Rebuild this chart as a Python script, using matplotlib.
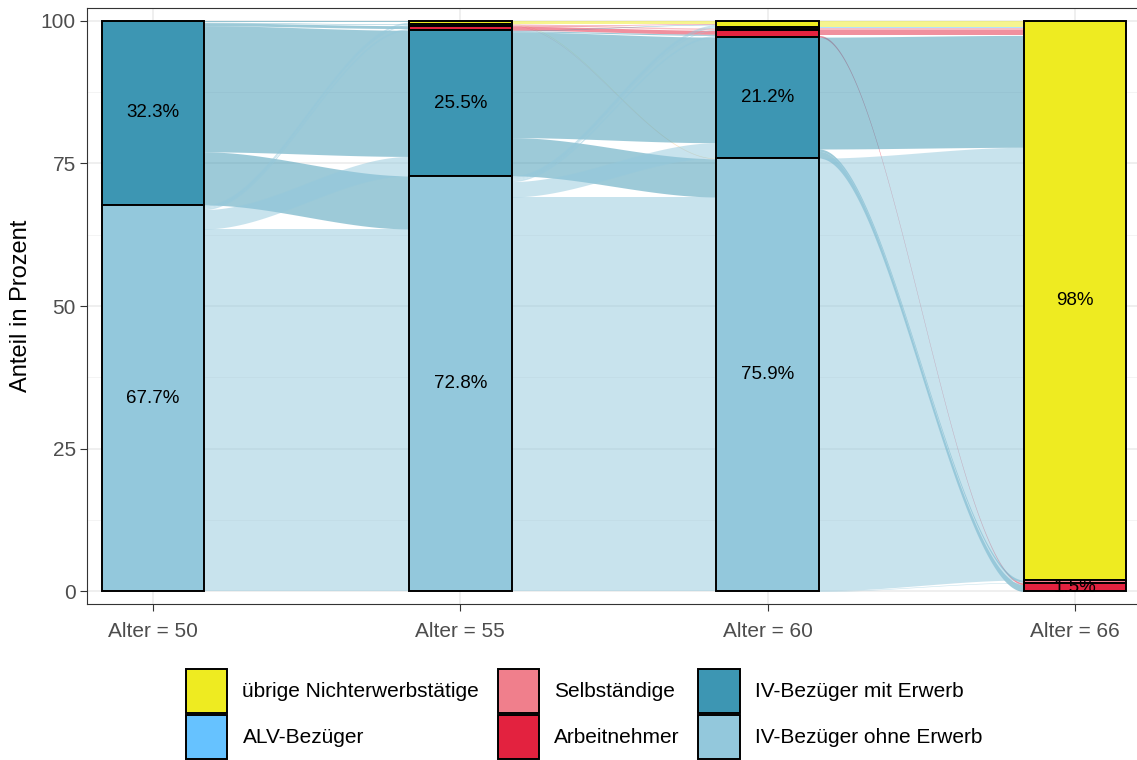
import numpy as np
import matplotlib.pyplot as plt
from matplotlib.patches import Patch

plt.rcParams['font.family'] = ['Liberation Sans', 'DejaVu Sans']

# Achsen und Kategorien (Reihenfolge von oben nach unten)
alter = ["Alter = 50", "Alter = 55", "Alter = 60", "Alter = 66"]
kategorien = ["übrige Nichterwerbstätige", "ALV-Bezüger", "Selbständige",
              "Arbeitnehmer", "IV-Bezüger mit Erwerb", "IV-Bezüger ohne Erwerb"]
farben = ["#EEEB21", "#66C2FF", "#F07F8C", "#E3223F", "#3D96B3", "#93C8DC"]

# Anteile in Prozent je Alter
anteil_50 = [0, 0, 0, 0, 32.3, 67.7]
anteil_55 = [0.6, 0, 0.3, 0.8, 25.5, 72.8]
anteil_60 = [1.1, 0.2, 0.4, 1.2, 21.2, 75.9]
anteil_66 = [98.0, 0, 0.5, 1.5, 0, 0]

# Übergänge (von, nach, Anteil) - Index in kategorien
fluss_50_55 = [(4, 0, 0.3), (4, 2, 0.1), (4, 3, 0.5), (4, 4, 22.1), (4, 5, 9.3),
               (5, 0, 0.3), (5, 2, 0.2), (5, 3, 0.3), (5, 4, 3.4), (5, 5, 63.5)]
fluss_55_60 = [(0, 0, 0.55), (0, 5, 0.05), (2, 2, 0.25), (2, 5, 0.05),
               (3, 0, 0.1), (3, 3, 0.7),
               (4, 0, 0.1), (4, 3, 0.2), (4, 4, 18.5), (4, 5, 6.7),
               (5, 0, 0.35), (5, 1, 0.2), (5, 2, 0.15), (5, 3, 0.3), (5, 4, 2.7), (5, 5, 69.1)]
fluss_60_66 = [(0, 0, 1.1), (1, 0, 0.2), (2, 0, 0.4), (3, 0, 0.9), (3, 3, 0.3),
               (4, 0, 19.6), (4, 2, 0.4), (4, 3, 1.2),
               (5, 0, 75.8), (5, 2, 0.1)]

anteile = [anteil_50, anteil_55, anteil_60, anteil_66]
fluesse = [fluss_50_55, fluss_55_60, fluss_60_66]

breite = 1 / 3


def oberkanten(anteil):
    # obere Kante jedes Stratums (erste Kategorie liegt oben)
    return [sum(anteil[k:]) for k in range(len(anteil))]


def lode_positionen(anteil, fluss, seite):
    # seite=0: ausgehend (sortiert nach Ziel), seite=1: eingehend (sortiert nach Herkunft)
    tops = oberkanten(anteil)
    pos = {}
    for s in range(len(anteil)):
        y = tops[s]
        teil = [i for i, f in enumerate(fluss) if f[seite] == s]
        teil.sort(key=lambda i: fluss[i][1 - seite])
        for i in teil:
            pos[i] = (y, y - fluss[i][2])
            y -= fluss[i][2]
    return pos


fig = plt.figure(figsize=(11.37, 7.6), dpi=100)
ax = fig.add_axes([87 / 1137, 1 - 604 / 760, (1141 - 87) / 1137, 596 / 760])

# Flüsse
for a, fluss in enumerate(fluesse):
    links = lode_positionen(anteile[a], fluss, 0)
    rechts = lode_positionen(anteile[a + 1], fluss, 1)
    x0, x1 = a + 1 + breite / 2, a + 2 - breite / 2
    xs = np.linspace(x0, x1, 160)
    t = (xs - x0) / (x1 - x0)
    s = t * t * (3 - 2 * t)
    for i, (von, nach, wert) in enumerate(fluss):
        oben = links[i][0] + (rechts[i][0] - links[i][0]) * s
        unten = links[i][1] + (rechts[i][1] - links[i][1]) * s
        ax.fill_between(xs, unten, oben, color=farben[von], alpha=0.5, linewidth=0, zorder=2)

# Strata
for a, anteil in enumerate(anteile):
    tops = oberkanten(anteil)
    for k, wert in enumerate(anteil):
        if wert <= 0:
            continue
        ax.bar(a + 1, wert, bottom=tops[k] - wert, width=breite, color=farben[k],
               edgecolor="black", linewidth=1.4, zorder=3)
        if wert >= 1.5:
            ax.text(a + 1, tops[k] - wert / 2, f"{wert:g}%", ha="center", va="center",
                    fontsize=13.5, color="black", zorder=4)

ax.set_xlim(1 - 66 / 307.33, 4 + 66 / 307.33)
ax.set_ylim(-2.2, 102.2)
ax.set_xticks(range(1, 5))
ax.set_xticklabels(alter)
ax.set_yticks([0, 25, 50, 75, 100])
ax.set_yticks([12.5, 37.5, 62.5, 87.5], minor=True)
ax.grid(True, which="major", color="#EBEBEB", linewidth=1.1, zorder=0)
ax.grid(True, which="minor", axis="y", color="#F2F2F2", linewidth=0.6, zorder=0)
ax.set_axisbelow(True)
ax.tick_params(axis="both", which="major", labelsize=15, labelcolor="#4D4D4D",
               color="#333333", length=5, width=0.8, pad=3)
ax.tick_params(axis="x", which="major", pad=8)
ax.tick_params(axis="y", which="minor", length=0)
for sp in ax.spines.values():
    sp.set_color("#333333")
    sp.set_linewidth(0.8)
ax.set_ylabel("Anteil in Prozent", fontsize=17, labelpad=6)

handles = [Patch(facecolor=c, edgecolor="black", linewidth=1.4) for c in farben]
fig.legend(handles, kategorien, loc="upper center", bbox_to_anchor=(0.5136, 1 - 669 / 760),
           ncol=3, frameon=False, fontsize=15, handlelength=2.0, handleheight=2.9,
           handletextpad=0.72, columnspacing=0.88, labelspacing=0.08,
           borderaxespad=0, borderpad=0)

fig.savefig("out.png", dpi=100)
